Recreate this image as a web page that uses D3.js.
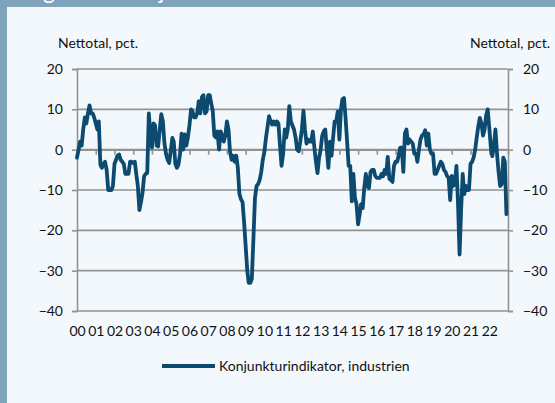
<!DOCTYPE html>
<html>
<head>
<meta charset="utf-8">
<script src="https://cdn.jsdelivr.net/npm/d3@7"></script>
<style>
    html, body { margin: 0; padding: 0; background: #fff; }
    svg { display: block; font-family: Lato, "Open Sans", sans-serif; }
</style>
</head>
<body>
<div id="chart"></div>
<script>
// monthly values, Jan 2000 - Dec 2022 (one row per year)
var startYear = 2000;
var monthlyValues = [
    -2, 0, 2, 1, 5, 8, 6.5, 9, 11, 9, 9, 8,                      // 2000
    6.5, 5, 7, -3.7, -4.5, -3.5, -3, -5, -10, -10, -10, -9,      // 2001
    -3.5, -2.5, -1.5, -1.2, -2.5, -3, -3.5, -6, -6, -6, -3, -3,  // 2002
    -3.3, -3, -6, -9, -15, -13, -10.7, -6.6, -6, -5.8, 9, 4,     // 2003
    0.5, 6.5, 6, 1, 0.8, 5, 8.8, 7, 1.5, -1, -2.5, -3.3,         // 2004
    -0.4, 2.9, 2, -3.5, -4.5, -3.7, -1, 4, 0, 3.8, 1, 3,         // 2005
    6, 10, 9.5, 8, 8, 9, 12, 9, 13, 13.5, 9, 9.5,                // 2006
    13.5, 13.5, 11.5, 9.5, 3.5, 3, 4.5, 0, 4.5, 3.5, 2, 3.5,     // 2007
    7, 5, -0.5, -2.5, -1.5, -3, -1.5, -4.5, -11, -12.3, -13, -18, // 2008
    -24, -30, -33, -33, -32, -22, -12, -9, -8.5, -7.5, -5.5, -2.5, // 2009
    -0.5, 3, 5.5, 8.3, 7, 6.2, 7, 6.2, 7, 6.5, 1, -4,            // 2010
    -1, 5, 3, 5, 10.8, 7, 6, 5, 3, 0, -0.4, 2,                   // 2011
    5, 9.7, 5, 1.5, 2.5, 2, 2, 4.5, 0.5, -3, -5.8, -2,           // 2012
    0, 3.5, 4.5, 5, 0, -4.5, 2, -1.5, 3, 7, 7, 9.5,              // 2013
    2.5, 10, 12.5, 12.8, 8, 2, -4, -4, -12.8, -6, -12, -13.5,    // 2014
    -18.5, -16, -13.5, -14.5, -9.5, -6, -9, -9.5, -5.5, -5, -5, -6.5, // 2015
    -7, -7, -7, -6, -6.6, -5, -6, -1.8, -7.2, -7.5, -8, -4,      // 2016
    -3, -3, -1.5, 0.5, 0.5, -5.5, 4, 5, 1.5, 2.5, 2, 1.5,        // 2017
    -1, -1, -3, 0, 2.5, 3.5, 3.8, 4.8, 1, 4, 0, -1,              // 2018
    -1, -6, -6, -5, -4, -3, -3.5, -5, -5.5, -6.5, -7, -12.5,     // 2019
    -6.5, -9, -8.5, -4, -13, -26, -15, -6, -11, -9, -10, -10,    // 2020
    -3.5, -3, -2, 0, 3, 5.8, 7.9, 6.5, 3.5, 5, 8.5, 10,          // 2021
    5.5, 0.5, -1.6, 1, 5, -1, -5.5, -9, -8.5, -2, -3, -16        // 2022
];
var yearLabels = ["00","01","02","03","04","05","06","07","08","09","10","11",
                  "12","13","14","15","16","17","18","19","20","21","22"];
var yTicks = [20, 10, 0, -10, -20, -30, -40];
var axisTitle = "Nettotal, pct.";
var seriesName = "Konjunkturindikator, industrien";
var chartTitle = "Figur 3. Konjunkturindikatoren for industrien";

var width = 555, height = 403;
var margin = {left: 77, right: 508, top: 69, bottom: 311};
var lineColor = "#0c4a70";
var gridColor = "#929292";
var fontSize = 14;

var svg = d3.select("#chart").append("svg")
    .attr("width", width)
    .attr("height", height);

// background + frame
svg.append("rect").attr("width", width).attr("height", height).attr("fill", "#f3f8fc");
svg.append("rect").attr("x", 0).attr("y", 0).attr("width", width).attr("height", 7).attr("fill", "#7fa3ba");
svg.append("rect").attr("x", 0).attr("y", 0).attr("width", 7).attr("height", height).attr("fill", "#7fa3ba");
// title band: the heading is cut off at the top edge, as in the original
svg.append("text")
    .attr("x", 22).attr("y", -1)
    .attr("fill", "#ffffff")
    .attr("font-size", 23)
    .attr("textLength", 505)
    .attr("lengthAdjust", "spacing")
    .text(chartTitle);

var data = monthlyValues.map(function(v, i) {
    return {date: new Date(startYear + Math.floor(i / 12), i % 12, 1), value: v};
});

var x = d3.scaleTime()
    .domain([new Date(startYear, 0, 1), new Date(startYear + yearLabels.length, 0, 1)])
    .range([margin.left, margin.right]);
var y = d3.scaleLinear()
    .domain([d3.min(yTicks), d3.max(yTicks)])
    .range([margin.bottom, margin.top]);

var yearDates = yearLabels.map(function(d, i) { return new Date(startYear + i, 0, 1); });

// gridlines
svg.append("g").selectAll("line")
    .data(yTicks)
    .enter().append("line")
    .attr("x1", margin.left).attr("x2", margin.right)
    .attr("y1", function(d) { return y(d); })
    .attr("y2", function(d) { return y(d); })
    .attr("stroke", gridColor)
    .attr("stroke-width", 1.6);

// y axes
var leftAxis = svg.append("g")
    .attr("transform", "translate(" + margin.left + ",0)")
    .call(d3.axisLeft(y).tickValues(yTicks).tickSize(5).tickPadding(9));
var rightAxis = svg.append("g")
    .attr("transform", "translate(" + margin.right + ",0)")
    .call(d3.axisRight(y).tickValues(yTicks).tickSize(5).tickPadding(10));

// year ticks on the zero line
var zeroAxis = svg.append("g")
    .attr("transform", "translate(0," + y(0) + ")")
    .call(d3.axisBottom(x).tickValues(yearDates).tickSize(5).tickFormat(""));

// year labels at the bottom
var bottomAxis = svg.append("g")
    .attr("transform", "translate(0," + margin.bottom + ")")
    .call(d3.axisBottom(x).tickValues(yearDates).tickSize(0).tickPadding(15)
        .tickFormat(function(d, i) { return yearLabels[i]; }));

[leftAxis, rightAxis, zeroAxis, bottomAxis].forEach(function(g) {
    g.select(".domain").attr("stroke", gridColor).attr("stroke-width", 1.6);
    g.selectAll(".tick line").attr("stroke", gridColor).attr("stroke-width", 1.6);
    g.selectAll("text").attr("fill", "#111").attr("font-size", fontSize)
        .attr("font-family", "Lato, 'Open Sans', sans-serif");
});
bottomAxis.select(".domain").remove();

// axis titles
svg.append("text").attr("x", 58).attr("y", 48)
    .attr("font-size", fontSize).attr("fill", "#111").text(axisTitle);
svg.append("text").attr("x", 550).attr("y", 48)
    .attr("text-anchor", "end")
    .attr("font-size", fontSize).attr("fill", "#111").text(axisTitle);

// series line
var line = d3.line()
    .x(function(d) { return x(d.date); })
    .y(function(d) { return y(d.value); });

svg.append("path")
    .datum(data)
    .attr("fill", "none")
    .attr("stroke", lineColor)
    .attr("stroke-width", 3.8)
    .attr("stroke-linejoin", "round")
    .attr("stroke-linecap", "round")
    .attr("d", line);

// legend
var legend = svg.append("g").attr("transform", "translate(162,366)");
legend.append("line")
    .attr("x1", 0).attr("x2", 53)
    .attr("stroke", lineColor).attr("stroke-width", 4);
legend.append("text")
    .attr("x", 57).attr("dy", "0.35em")
    .attr("font-size", fontSize).attr("fill", "#111")
    .text(seriesName);
</script>
</body>
</html>
